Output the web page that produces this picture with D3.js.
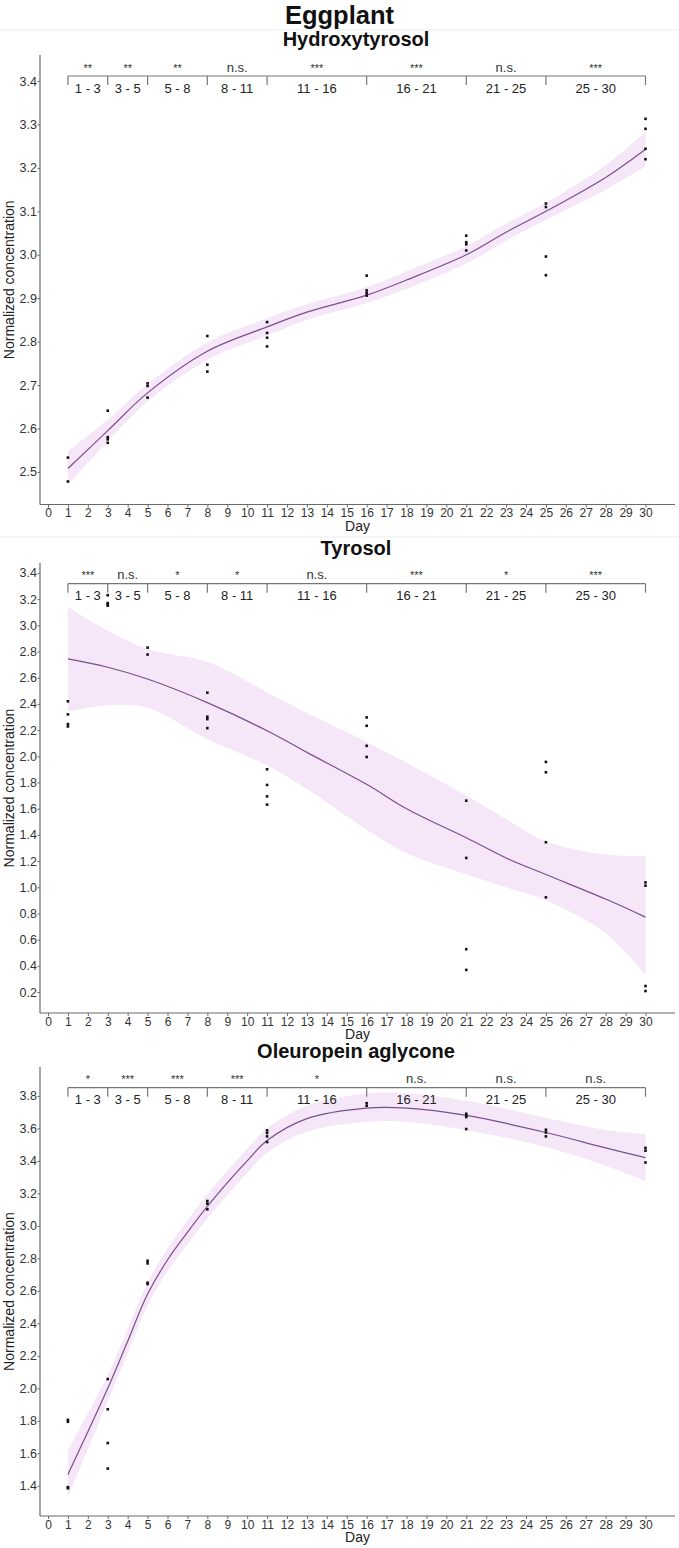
<!DOCTYPE html>
<html>
<head>
<meta charset="utf-8">
<script src="https://cdn.jsdelivr.net/npm/d3@7"></script>
<style>
  html, body { margin: 0; padding: 0; background: #fff; }
  svg { display: block; font-family: "Liberation Sans", Arial, sans-serif; }
</style>
</head>
<body>
<svg id="chart" width="679" height="1548"></svg>
<script>
// ---------------- DATA ----------------
const mainTitle = "Eggplant";
const panelTitles = ["Hydroxytyrosol", "Tyrosol", "Oleuropein aglycone"];
const xLabel = "Day";
const yLabel = "Normalized concentration";
const dayTicks = [0,1,2,3,4,5,6,7,8,9,10,11,12,13,14,15,16,17,18,19,20,21,22,23,24,25,26,27,28,29,30];

// comparison brackets
const bracketDays = [1, 3, 5, 8, 11, 16, 21, 25, 30];
const intervalLabels = ["1 - 3", "3 - 5", "5 - 8", "8 - 11", "11 - 16", "16 - 21", "21 - 25", "25 - 30"];
const sigHydroxytyrosol = ["**", "**", "**", "n.s.", "***", "***", "n.s.", "***"];
const sigTyrosol = ["***", "n.s.", "*", "*", "n.s.", "***", "*", "***"];
const sigOleuropein = ["*", "***", "***", "***", "*", "n.s.", "n.s.", "n.s."];

// y tick labels
const ticksHydroxytyrosol = [2.5, 2.6, 2.7, 2.8, 2.9, 3.0, 3.1, 3.2, 3.3, 3.4];
const ticksTyrosol = [0.2, 0.4, 0.6, 0.8, 1.0, 1.2, 1.4, 1.6, 1.8, 2.0, 2.2, 2.4, 2.6, 2.8, 3.0, 3.2, 3.4];
const ticksOleuropein = [1.4, 1.6, 1.8, 2.0, 2.2, 2.4, 2.6, 2.8, 3.0, 3.2, 3.4, 3.6, 3.8];

// observed points
const hyDays   = [1, 1, 3, 3, 3, 3, 5, 5, 5, 8, 8, 8, 11, 11, 11, 11, 16, 16, 16, 16, 21, 21, 21, 21, 25, 25, 25, 25, 30, 30, 30, 30];
const hyValues = [2.533, 2.478, 2.641, 2.580, 2.575, 2.567, 2.704, 2.698, 2.671, 2.813, 2.747, 2.731, 2.845, 2.820, 2.809, 2.789,
                  2.952, 2.918, 2.912, 2.906, 3.044, 3.029, 3.024, 3.010, 3.118, 3.110, 2.996, 2.953, 3.313, 3.290, 3.244, 3.220];

const tyDays   = [1, 1, 1, 1, 3, 3, 3, 3, 5, 5, 8, 8, 8, 8, 11, 11, 11, 11, 16, 16, 16, 16, 21, 21, 21, 21, 25, 25, 25, 25, 30, 30, 30, 30];
const tyValues = [2.42, 2.32, 2.246, 2.228, 3.23, 3.17, 3.16, 3.15, 2.83, 2.777, 2.486, 2.302, 2.284, 2.215, 1.901, 1.781, 1.694, 1.631,
                  2.297, 2.233, 2.08, 1.995, 1.661, 1.224, 0.527, 0.369, 1.957, 1.878, 1.344, 0.923, 1.037, 1.012, 0.246, 0.208];

const olDays   = [1, 1, 1, 1, 3, 3, 3, 3, 5, 5, 5, 5, 8, 8, 8, 11, 11, 11, 11, 16, 16, 21, 21, 21, 21, 25, 25, 25, 30, 30, 30];
const olValues = [1.806, 1.794, 1.392, 1.385, 2.057, 1.871, 1.663, 1.506, 2.785, 2.769, 2.650, 2.642, 3.153, 3.137, 3.102,
                  3.588, 3.572, 3.551, 3.516, 3.755, 3.739, 3.690, 3.680, 3.670, 3.596, 3.592, 3.575, 3.551, 3.480, 3.463, 3.390];

// fitted smooth curves with confidence band
const hyFitDays = [1, 3, 5, 8, 11, 13, 16, 18, 21, 23, 25, 28, 30];
const hyFit     = [2.508, 2.595, 2.682, 2.778, 2.834, 2.868, 2.907, 2.942, 3.000, 3.052, 3.100, 3.178, 3.243];
const hyFitLo   = [2.470, 2.570, 2.662, 2.758, 2.814, 2.850, 2.889, 2.922, 2.980, 3.032, 3.080, 3.150, 3.203];
const hyFitHi   = [2.548, 2.620, 2.702, 2.798, 2.854, 2.886, 2.925, 2.962, 3.020, 3.072, 3.120, 3.206, 3.283];

const tyFitDays = [1, 3, 5, 8, 11, 13, 16, 18, 21, 23, 25, 28, 30];
const tyFit     = [2.744, 2.680, 2.590, 2.410, 2.195, 2.030, 1.786, 1.600, 1.378, 1.224, 1.097, 0.910, 0.772];
const tyFitLo   = [2.340, 2.390, 2.370, 2.130, 1.930, 1.750, 1.440, 1.260, 1.100, 1.000, 0.900, 0.650, 0.330];
const tyFitHi   = [3.140, 2.960, 2.820, 2.720, 2.490, 2.330, 2.110, 1.950, 1.700, 1.520, 1.350, 1.250, 1.237];

const olFitDays = [1, 3, 4, 5, 6, 7, 8, 9, 10, 11, 13, 16, 18, 21, 25, 28, 30];
const olFit     = [1.470, 2.000, 2.290, 2.580, 2.790, 2.960, 3.120, 3.265, 3.400, 3.525, 3.660, 3.725, 3.725, 3.680, 3.575, 3.480, 3.420];
const olFitLo   = [1.330, 1.920, 2.215, 2.510, 2.720, 2.885, 3.045, 3.190, 3.325, 3.450, 3.580, 3.640, 3.640, 3.590, 3.485, 3.370, 3.275];
const olFitHi   = [1.620, 2.080, 2.365, 2.650, 2.860, 3.035, 3.195, 3.340, 3.475, 3.600, 3.740, 3.815, 3.815, 3.770, 3.665, 3.590, 3.565];

// ---------------- DRAWING ----------------
const svg = d3.select("#chart");
const lineColor = "#7b4f8c";
const bandColor = "#f5e7f7";
const axisColor = "#6a6a6a";
const textColor = "#333";

svg.append("text").attr("x", 339.5).attr("y", 23.5).attr("text-anchor", "middle")
  .attr("font-size", 25.5).attr("font-weight", "bold").attr("fill", "#111").text(mainTitle);

[30, 537].forEach(yy => {
  svg.append("line").attr("x1", 0).attr("x2", 679).attr("y1", yy).attr("y2", yy)
    .attr("stroke", "#ececec").attr("stroke-width", 1);
});

const panels = [
  { title: panelTitles[0], titleY: 46, top: 55, bottom: 504.5, dom: [2.425, 3.46], ticks: ticksHydroxytyrosol,
    days: hyDays, vals: hyValues, fd: hyFitDays, f: hyFit, lo: hyFitLo, hi: hyFitHi, sig: sigHydroxytyrosol, br: 76 },
  { title: panelTitles[1], titleY: 555, top: 563, bottom: 1013, dom: [0.04, 3.476], ticks: ticksTyrosol,
    days: tyDays, vals: tyValues, fd: tyFitDays, f: tyFit, lo: tyFitLo, hi: tyFitHi, sig: sigTyrosol, br: 583.7 },
  { title: panelTitles[2], titleY: 1058, top: 1067, bottom: 1516, dom: [1.214, 3.978], ticks: ticksOleuropein,
    days: olDays, vals: olValues, fd: olFitDays, f: olFit, lo: olFitLo, hi: olFitHi, sig: sigOleuropein, br: 1087.7 }
];

const x = d3.scaleLinear().domain([0, 30]).range([48, 645.5]);
const curve = d3.curveCatmullRom.alpha(0.5);

panels.forEach(p => {
  const g = svg.append("g");
  const y = d3.scaleLinear().domain(p.dom).range([p.bottom, p.top]);
  const fit = p.fd.map((d, i) => ({ day: d, v: p.f[i], lo: p.lo[i], hi: p.hi[i] }));
  const pts = p.days.map((d, i) => ({ day: d, v: p.vals[i] }));

  // title
  g.append("text").attr("x", 356).attr("y", p.titleY).attr("text-anchor", "middle")
    .attr("font-size", 20).attr("font-weight", "bold").attr("fill", "#111").text(p.title);

  // band
  g.append("path").datum(fit)
    .attr("d", d3.area().x(d => x(d.day)).y0(d => y(d.lo)).y1(d => y(d.hi)).curve(curve))
    .attr("fill", bandColor);

  // line
  g.append("path").datum(fit)
    .attr("d", d3.line().x(d => x(d.day)).y(d => y(d.v)).curve(curve))
    .attr("fill", "none").attr("stroke", lineColor).attr("stroke-width", 1.2);

  // points
  g.selectAll("rect.pt").data(pts).enter().append("rect").attr("class", "pt")
    .attr("x", d => x(d.day) - 1.3).attr("y", d => y(d.v) - 1.3)
    .attr("width", 2.6).attr("height", 2.6).attr("fill", "#111");

  // axes
  const xa = g.append("g").attr("transform", `translate(0,${p.bottom})`)
    .call(d3.axisBottom(x).tickValues(dayTicks).tickSize(3).tickPadding(1).tickFormat(d3.format("d")));
  xa.select(".domain").remove();
  xa.selectAll("line").attr("stroke", axisColor);
  xa.selectAll("text").attr("font-size", 12).attr("fill", textColor).attr("font-family", "Liberation Sans, Arial, sans-serif");
  g.append("line").attr("x1", 40).attr("x2", 675).attr("y1", p.bottom).attr("y2", p.bottom)
    .attr("stroke", axisColor).attr("stroke-width", 1.2);

  const ya = g.append("g").attr("transform", "translate(40,0)")
    .call(d3.axisLeft(y).tickValues(p.ticks).tickSize(2.5).tickPadding(0.5).tickFormat(d3.format(".1f")));
  ya.select(".domain").remove();
  ya.selectAll("line").attr("stroke", axisColor);
  ya.selectAll("text").attr("font-size", 12.5).attr("fill", textColor).attr("font-family", "Liberation Sans, Arial, sans-serif");
  g.append("line").attr("x1", 40).attr("x2", 40).attr("y1", p.top).attr("y2", p.bottom)
    .attr("stroke", axisColor).attr("stroke-width", 1.2);

  // axis labels
  g.append("text").attr("x", 357.5).attr("y", p.bottom + 26).attr("text-anchor", "middle")
    .attr("font-size", 14).attr("fill", "#222").text(xLabel);
  g.append("text").attr("transform", `translate(13.5,${(p.top + p.bottom) / 2}) rotate(-90)`)
    .attr("text-anchor", "middle").attr("font-size", 14).attr("fill", "#222").text(yLabel);

  // brackets
  const bc = "#777";
  g.append("line").attr("x1", x(bracketDays[0])).attr("x2", x(bracketDays[bracketDays.length - 1]))
    .attr("y1", p.br).attr("y2", p.br).attr("stroke", bc).attr("stroke-width", 1.2);
  bracketDays.forEach(d => {
    g.append("line").attr("x1", x(d)).attr("x2", x(d)).attr("y1", p.br).attr("y2", p.br + 9)
      .attr("stroke", bc).attr("stroke-width", 1.2);
  });
  intervalLabels.forEach((lab, i) => {
    const cx = (x(bracketDays[i]) + x(bracketDays[i + 1])) / 2;
    g.append("text").attr("x", cx).attr("y", p.br + 16.5).attr("text-anchor", "middle")
      .attr("font-size", 13).attr("fill", "#222").text(lab);
    g.append("text").attr("x", cx).attr("y", p.br - 4.5).attr("text-anchor", "middle")
      .attr("font-size", p.sig[i] === "n.s." ? 13 : 11).attr("fill", "#333").text(p.sig[i]);
  });
});
</script>
</body>
</html>
